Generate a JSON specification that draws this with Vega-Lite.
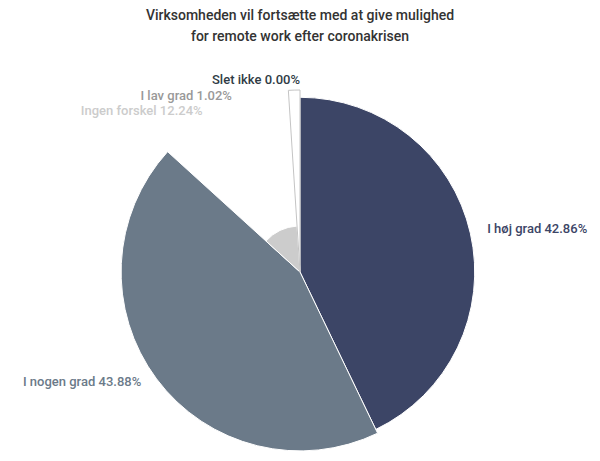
{
  "$schema": "https://vega.github.io/schema/vega-lite/v6.json",
  "width": 600,
  "height": 378,
  "autosize": {"type": "none"},
  "padding": {"top": 83, "left": 0, "right": 0, "bottom": 0},
  "background": "white",
  "title": {
    "text": ["Virksomheden vil fortsætte med at give mulighed", "for remote work efter coronakrisen"],
    "font": "Roboto",
    "fontSize": 14,
    "fontWeight": 500,
    "color": "#333333",
    "anchor": "middle",
    "frame": "group",
    "offset": 24,
    "lineHeight": 21
  },
  "config": {"view": {"stroke": null}},
  "data": {
    "values": [
      {"k": "I høj grad", "value": 42.86, "z": 96, "o": 1, "label": "I høj grad 42.86%"},
      {"k": "I nogen grad", "value": 43.88, "z": 98.3, "o": 2, "label": "I nogen grad 43.88%"},
      {"k": "Ingen forskel", "value": 12.24, "z": 25.3, "o": 3, "label": "Ingen forskel 12.24%"},
      {"k": "I lav grad", "value": 1.02, "z": 100, "o": 4, "label": "I lav grad 1.02%"},
      {"k": "Slet ikke", "value": 0, "z": 0, "o": 5, "label": "Slet ikke 0.00%"}
    ]
  },
  "layer": [
    {
      "transform": [
        {"stack": "value", "groupby": [], "sort": [{"field": "o", "order": "ascending"}], "as": ["s0", "s1"]}
      ],
      "mark": {"type": "arc", "strokeWidth": 1},
      "encoding": {
        "theta": {"field": "s0", "type": "quantitative", "stack": null},
        "theta2": {"field": "s1"},
        "radius": {"field": "z", "type": "quantitative", "scale": {"type": "linear", "domain": [0, 100], "range": [0, 182], "zero": true}},
        "color": {"field": "k", "type": "nominal", "legend": null,
          "scale": {"domain": ["I høj grad", "I nogen grad", "Ingen forskel", "I lav grad", "Slet ikke"],
                    "range": ["#3c4566", "#6b7a89", "#cccccc", "#ffffff", "#2f3b45"]}},
        "stroke": {"condition": {"test": "datum.k === 'I lav grad'", "value": "#c4c4c4"}, "value": "#ffffff"}
      }
    },
    {
      "mark": {"type": "text", "font": "Roboto", "fontSize": 13, "fontWeight": 500, "align": "left", "baseline": "middle", "color": "#3c4566"},
      "encoding": {
        "theta": {"field": "value", "type": "quantitative", "stack": true},
        "order": {"field": "o", "type": "quantitative"},
        "radius": {"value": 192},
        "text": {"condition": {"test": "datum.k === 'I høj grad'", "field": "label"}, "value": ""}
      }
    },
    {
      "mark": {"type": "text", "font": "Roboto", "fontSize": 13, "fontWeight": 500, "align": "right", "baseline": "middle", "color": "#6b7a89", "dx": -4, "dy": -5},
      "encoding": {
        "theta": {"field": "value", "type": "quantitative", "stack": true},
        "order": {"field": "o", "type": "quantitative"},
        "radius": {"value": 193},
        "text": {"condition": {"test": "datum.k === 'I nogen grad'", "field": "label"}, "value": ""}
      }
    },
    {
      "mark": {"type": "text", "font": "Roboto", "fontSize": 13, "fontWeight": 500, "align": "right", "baseline": "middle", "color": "#cccccc", "dx": -15, "dy": 10},
      "encoding": {
        "theta": {"field": "value", "type": "quantitative", "stack": true},
        "order": {"field": "o", "type": "quantitative"},
        "radius": {"value": 190},
        "text": {"condition": {"test": "datum.k === 'Ingen forskel'", "field": "label"}, "value": ""}
      }
    },
    {
      "mark": {"type": "text", "font": "Roboto", "fontSize": 13, "fontWeight": 500, "align": "right", "baseline": "middle", "color": "#999999", "dx": -62, "dy": 14},
      "encoding": {
        "theta": {"field": "value", "type": "quantitative", "stack": true},
        "order": {"field": "o", "type": "quantitative"},
        "radius": {"value": 190},
        "text": {"condition": {"test": "datum.k === 'I lav grad'", "field": "label"}, "value": ""}
      }
    },
    {
      "mark": {"type": "text", "font": "Roboto", "fontSize": 13, "fontWeight": 500, "align": "right", "baseline": "middle", "color": "#2f3b45"},
      "encoding": {
        "theta": {"field": "value", "type": "quantitative", "stack": true},
        "order": {"field": "o", "type": "quantitative"},
        "radius": {"value": 192},
        "text": {"condition": {"test": "datum.k === 'Slet ikke'", "field": "label"}, "value": ""}
      }
    }
  ]
}
